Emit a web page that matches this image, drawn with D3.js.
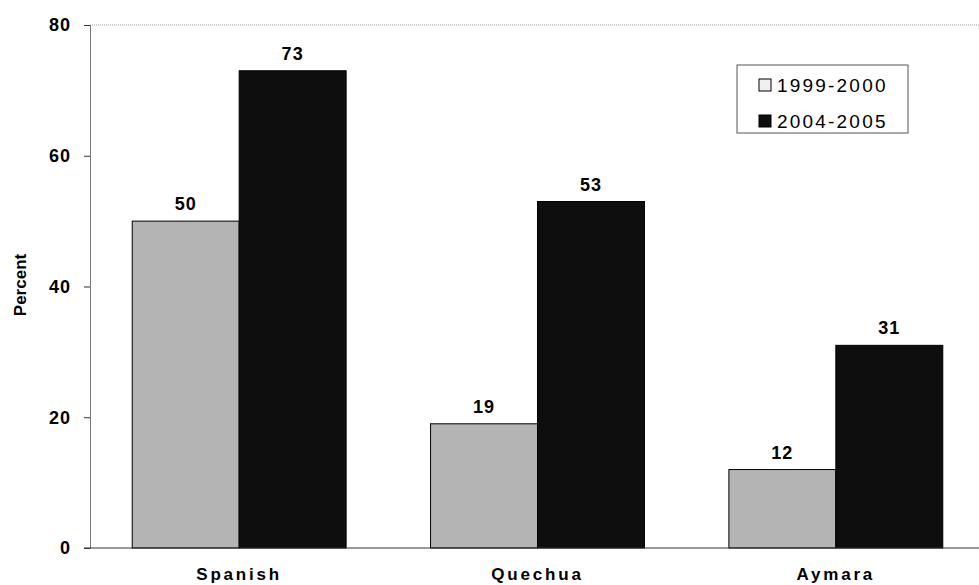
<!DOCTYPE html>
<html>
<head>
<meta charset="utf-8">
<script src="https://cdn.jsdelivr.net/npm/d3@7"></script>
<style>
  body { margin: 0; background: #fff; }
  svg { display: block; font-family: Arial, "Liberation Sans", sans-serif; }
</style>
</head>
<body>
<svg></svg>
<script>
const categories = ["Spanish", "Quechua", "Aymara"];
const seriesNames = ["1999-2000", "2004-2005"];
const values1999 = [50, 19, 12];
const values2004 = [73, 53, 31];
const yTicks = [0, 20, 40, 60, 80];

const width = 979, height = 585;
const margin = { top: 25, right: -6, bottom: 37, left: 90 };
let svg = d3.select("svg").attr("width", width).attr("height", height);

const x0 = d3.scaleBand().domain(categories)
    .range([margin.left, width - margin.right]).paddingInner(0.283).paddingOuter(0.1415);
const x1 = d3.scaleBand().domain(seriesNames).range([0, x0.bandwidth()]);
const y = d3.scaleLinear().domain([0, 80]).range([height - margin.bottom, margin.top]);
const fills = ["#b4b4b4", "#0e0e0e"];

// top dotted gridline
svg.append("line")
    .attr("x1", margin.left).attr("x2", width)
    .attr("y1", y(80)).attr("y2", y(80))
    .style("stroke", "#999").style("stroke-dasharray", "1,1");

const rows = categories.map((c, i) => ({ cat: c, vals: [values1999[i], values2004[i]] }));
const groups = svg.append("g").selectAll("g").data(rows).join("g")
    .attr("transform", d => `translate(${x0(d.cat)},0)`);

groups.selectAll("rect").data(d => d.vals.map((v, j) => ({ v, s: seriesNames[j], j })))
    .join("rect")
    .attr("x", d => x1(d.s)).attr("width", x1.bandwidth())
    .attr("y", d => y(d.v)).attr("height", d => y(0) - y(d.v))
    .style("fill", d => fills[d.j]).style("stroke", "#000").style("stroke-width", 1);

groups.selectAll("text.val").data(d => d.vals.map((v, j) => ({ v, s: seriesNames[j] })))
    .join("text").attr("class", "val")
    .attr("x", d => x1(d.s) + x1.bandwidth() / 2).attr("y", d => y(d.v) - 11)
    .attr("text-anchor", "middle").style("font-size", "18px").style("font-weight", "bold")
    .style("letter-spacing", "1px")
    .text(d => d.v);

// y axis
const yAxis = svg.append("g").attr("transform", `translate(${margin.left},0)`)
    .call(d3.axisLeft(y).tickValues(yTicks).tickSize(6).tickPadding(13));
yAxis.select(".domain").style("stroke", "#777");
yAxis.selectAll(".tick line").style("stroke", "#333");
yAxis.selectAll("text").style("font-size", "18px").style("font-weight", "bold")
    .style("letter-spacing", "1px")
    .style("font-family", "Arial, 'Liberation Sans', sans-serif").style("fill", "#000");

// x baseline
svg.append("line").attr("x1", margin.left - 6).attr("x2", width)
    .attr("y1", y(0)).attr("y2", y(0)).style("stroke", "#333");

svg.append("g").selectAll("text").data(categories).join("text")
    .attr("x", d => x0(d) + x0.bandwidth() / 2).attr("y", 580)
    .attr("text-anchor", "middle").style("font-size", "17px").style("font-weight", "bold")
    .style("letter-spacing", "2.8px").text(d => d);

svg.append("text").attr("transform", `translate(26,285) rotate(-90)`)
    .attr("text-anchor", "middle").style("font-size", "17px").style("font-weight", "bold")
    .text("Percent");

// legend
const legend = svg.append("g").attr("transform", "translate(737,65)");
legend.append("rect").attr("width", 171).attr("height", 68)
    .style("fill", "#fff").style("stroke", "#555");
seriesNames.forEach((s, i) => {
    const g = legend.append("g").attr("transform", `translate(22,${27 + i * 36})`);
    g.append("rect").attr("width", 12).attr("height", 12).attr("y", -13)
        .style("fill", i === 0 ? "#f0f0f0" : fills[1]).style("stroke", "#000");
    g.append("text").attr("x", 18).attr("y", 0).style("font-size", "19px")
        .style("letter-spacing", "2.2px").text(s);
});
</script>
</body>
</html>
